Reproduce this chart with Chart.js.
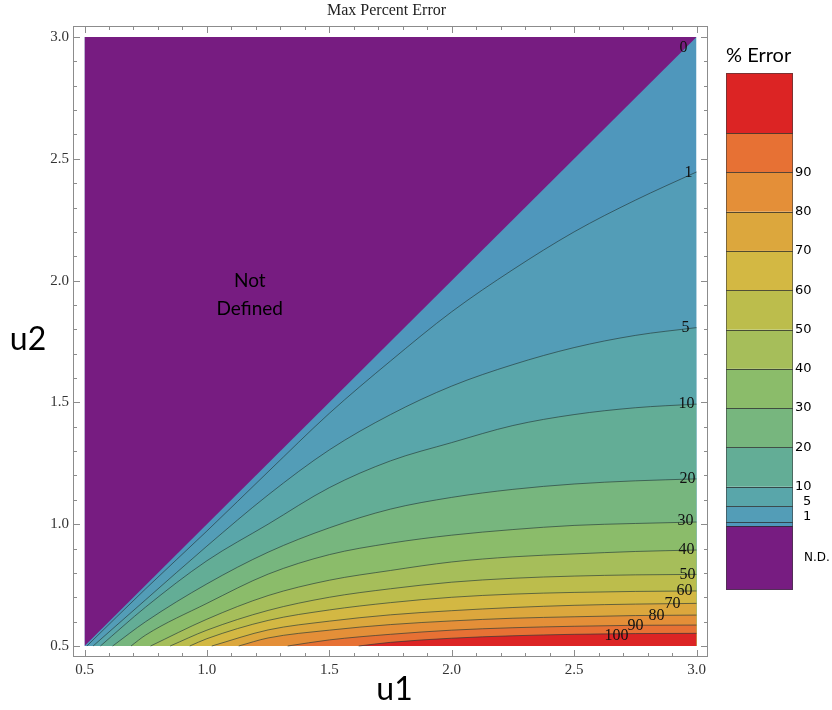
<!DOCTYPE html>
<html>
<head>
<meta charset="utf-8">
<script src="https://cdn.jsdelivr.net/npm/chart.js@4"></script>
<style>
  html, body { margin: 0; padding: 0; background: #fff; }
</style>
</head>
<body>
<canvas id="myChart" width="832" height="710"></canvas>
<script>
// contour levels (% error) and the points of each contour line, [u1, u2]
const levels = [1, 5, 10, 20, 30, 40, 50, 60, 70, 80, 90, 100];

const line1 = [[0.51, 0.5], [0.75, 0.735], [1.0, 0.972], [1.25, 1.215], [1.5, 1.455], [1.75, 1.67], [2.0, 1.872], [2.25, 2.045], [2.5, 2.2], [2.75, 2.33], [3.0, 2.446]];
const line5 = [[0.535, 0.5], [0.75, 0.69], [1.0, 0.91], [1.25, 1.12], [1.5, 1.305], [1.75, 1.45], [2.0, 1.567], [2.25, 1.655], [2.5, 1.725], [2.75, 1.775], [3.0, 1.807]];
const line10 = [[0.565, 0.5], [0.75, 0.66], [1.0, 0.85], [1.25, 1.0], [1.5, 1.15], [1.75, 1.26], [2.0, 1.335], [2.25, 1.405], [2.5, 1.45], [2.75, 1.478], [3.0, 1.493]];
const line20 = [[0.615, 0.5], [0.75, 0.6], [1.0, 0.755], [1.25, 0.885], [1.5, 0.985], [1.75, 1.062], [2.0, 1.11], [2.25, 1.143], [2.5, 1.165], [2.75, 1.178], [3.0, 1.186]];
const line30 = [[0.69, 0.5], [0.75, 0.545], [1.0, 0.675], [1.25, 0.795], [1.5, 0.875], [1.75, 0.922], [2.0, 0.955], [2.25, 0.978], [2.5, 0.995], [2.75, 1.003], [3.0, 1.009]];
const line40 = [[0.77, 0.5], [1.0, 0.61], [1.25, 0.707], [1.5, 0.77], [1.75, 0.81], [2.0, 0.845], [2.25, 0.866], [2.5, 0.878], [2.75, 0.888], [3.0, 0.894]];
const line50 = [[0.85, 0.5], [1.0, 0.565], [1.25, 0.646], [1.5, 0.7], [1.75, 0.735], [2.0, 0.762], [2.25, 0.778], [2.5, 0.787], [2.75, 0.792], [3.0, 0.794]];
const line60 = [[0.93, 0.5], [1.0, 0.53], [1.25, 0.605], [1.5, 0.648], [1.75, 0.678], [2.0, 0.7], [2.25, 0.713], [2.5, 0.72], [2.75, 0.724], [3.0, 0.726]];
const line70 = [[1.02, 0.5], [1.25, 0.566], [1.5, 0.602], [1.75, 0.628], [2.0, 0.645], [2.25, 0.658], [2.5, 0.667], [2.75, 0.672], [3.0, 0.675]];
const line80 = [[1.13, 0.5], [1.25, 0.533], [1.5, 0.565], [1.75, 0.588], [2.0, 0.603], [2.25, 0.614], [2.5, 0.62], [2.75, 0.625], [3.0, 0.627]];
const line90 = [[1.33, 0.5], [1.5, 0.525], [1.75, 0.548], [2.0, 0.565], [2.25, 0.575], [2.5, 0.581], [2.75, 0.585], [3.0, 0.586]];
const line100 = [[1.62, 0.5], [1.75, 0.515], [2.0, 0.532], [2.25, 0.542], [2.5, 0.548], [2.75, 0.551], [3.0, 0.552]];

const contourLines = [line1, line5, line10, line20, line30, line40, line50, line60, line70, line80, line90, line100];

// not defined region: u2 > u1
const notDefinedEdge = [[0.5, 0.5], [3.0, 3.0]];

const xTicks = [0.5, 1.0, 1.5, 2.0, 2.5, 3.0];
const yTicks = [0.5, 1.0, 1.5, 2.0, 2.5, 3.0];

// band colours: 0-1, 1-5, 5-10, 10-20, ... 90-100, >100
const bandColors = ['#4f97bc', '#539db7', '#59a6aa', '#63ad96', '#77b67e', '#8bbc6a', '#a6be5a', '#bcbd4c', '#d3b843', '#dca73d', '#e48f38', '#e77134', '#dc2424'];
const ndColor = '#771c81';
const lineColor = 'rgba(35,55,55,0.8)';

// where the level numbers sit on the plot
const labelSpots = [[2.947, 2.955], [2.967, 2.442], [2.955, 1.805], [2.959, 1.493], [2.963, 1.186], [2.955, 1.013], [2.959, 0.894], [2.963, 0.791], [2.951, 0.726], [2.902, 0.672], [2.837, 0.623], [2.751, 0.582], [2.673, 0.541]];
const labelTexts = ['0', '1', '5', '10', '20', '30', '40', '50', '60', '70', '80', '90', '100'];

const toXY = pts => pts.map(p => ({ x: p[0], y: p[1] }));

let datasets = [];
datasets.push({
  data: toXY(notDefinedEdge),
  fill: { value: 3 },
  backgroundColor: ndColor,
  borderWidth: 0,
  pointRadius: 0,
});
for (let i = contourLines.length - 1; i >= 0; i--) {
  datasets.push({
    data: toXY(contourLines[i]),
    fill: { value: 0.5 },
    backgroundColor: bandColors[i + 1],
    borderColor: lineColor,
    borderWidth: 0.8,
    pointRadius: 0,
    cubicInterpolationMode: 'monotone',
  });
}
datasets.push({
  data: [{ x: 0.5, y: 3 }, { x: 3, y: 3 }],
  fill: { value: 0.5 },
  backgroundColor: bandColors[0],
  borderWidth: 0,
  pointRadius: 0,
});

const framePlugin = {
  id: 'frame',
  afterDatasetsDraw(chart) {
    const { ctx, chartArea: a, scales: { x, y } } = chart;
    ctx.save();
    // contour labels
    ctx.fillStyle = '#111';
    ctx.font = '16px "Liberation Serif"';
    ctx.textAlign = 'center';
    ctx.textBaseline = 'middle';
    labelSpots.forEach((s, i) => {
      ctx.fillText(labelTexts[i], x.getPixelForValue(s[0]), y.getPixelForValue(s[1]));
    });
    ctx.font = '19px Lato';
    ctx.fillStyle = '#000';
    ctx.fillText('Not', x.getPixelForValue(1.175), y.getPixelForValue(2.0));
    ctx.fillText('Defined', x.getPixelForValue(1.175), y.getPixelForValue(1.883));

    // frame with inward ticks
    ctx.strokeStyle = '#8c8c8c';
    ctx.lineWidth = 1;
    ctx.strokeRect(a.left + 0.5, a.top + 0.5, a.right - a.left - 1, a.bottom - a.top - 1);
    ctx.beginPath();
    for (let i = 5; i <= 30; i++) {
      const v = i / 10;
      const len = i % 5 === 0 ? 7 : 4;
      const px = Math.round(x.getPixelForValue(v)) + 0.5;
      ctx.moveTo(px, a.bottom); ctx.lineTo(px, a.bottom - len);
      ctx.moveTo(px, a.top); ctx.lineTo(px, a.top + len);
      const py = Math.round(y.getPixelForValue(v)) + 0.5;
      ctx.moveTo(a.left, py); ctx.lineTo(a.left + len, py);
      ctx.moveTo(a.right, py); ctx.lineTo(a.right - len, py);
    }
    ctx.stroke();
    ctx.restore();
  },
  afterDraw(chart) {
    const { ctx, chartArea: a } = chart;
    ctx.save();
    // title and axis names
    ctx.fillStyle = '#222';
    ctx.textAlign = 'center';
    ctx.textBaseline = 'middle';
    ctx.font = '16px "Liberation Serif"';
    ctx.fillText('Max Percent Error', (a.left + a.right) / 2 - 4, 11);
    ctx.fillStyle = '#000';
    ctx.font = '32px Lato';
    ctx.fillText('u1', (a.left + a.right) / 2 + 4, 690);
    ctx.fillText('u2', 28, 340);

    // colour bar
    const bx = 726, bw = 67, zero = 526, per = 3.93, top = 73, ndBottom = 590;
    const edges = [0, 1, 5, 10, 20, 30, 40, 50, 60, 70, 80, 90, 100];
    ctx.fillStyle = ndColor;
    ctx.fillRect(bx, zero, bw, ndBottom - zero);
    for (let i = 0; i < edges.length; i++) {
      const y0 = zero - edges[i] * per;
      const y1 = i + 1 < edges.length ? zero - edges[i + 1] * per : top;
      ctx.fillStyle = bandColors[i];
      ctx.fillRect(bx, y1, bw, y0 - y1);
    }
    ctx.strokeStyle = 'rgba(40,40,40,0.75)';
    ctx.lineWidth = 1;
    ctx.beginPath();
    edges.forEach(e => {
      const yy = Math.round(zero - e * per) + 0.5;
      ctx.moveTo(bx, yy); ctx.lineTo(bx + bw, yy);
    });
    ctx.stroke();
    ctx.strokeStyle = 'rgba(60,60,60,0.6)';
    ctx.strokeRect(bx + 0.5, top + 0.5, bw - 1, ndBottom - top - 1);

    ctx.fillStyle = '#000';
    ctx.font = '13px "DejaVu Sans"';
    ctx.textAlign = 'left';
    edges.forEach(e => {
      if (e >= 10 && e <= 90) ctx.fillText(String(e), bx + bw + 2, zero - e * per);
    });
    ctx.fillText('5', bx + bw + 10, zero - 5 * per - 5);
    ctx.fillText('1', bx + bw + 10, zero - 1 * per - 5);
    ctx.font = '12px "DejaVu Sans"';
    ctx.fillText('N.D.', bx + bw + 11, 558);
    ctx.font = '20px Lato';
    ctx.fillText('% Error', bx, 56);
    ctx.restore();
  },
};

const ctx = document.getElementById('myChart').getContext('2d');
const myChart = new Chart(ctx, {
  type: 'scatter',
  data: { datasets: datasets },
  options: {
    responsive: false,
    animation: false,
    showLine: true,
    layout: { padding: { top: 26, right: 124, left: 0, bottom: 0 } },
    plugins: { legend: { display: false }, tooltip: { enabled: false } },
    scales: {
      x: {
        type: 'linear',
        min: 0.5 - 11.5 / 244.8,
        max: 3.0 + 11.5 / 244.8,
        grid: { display: false, drawTicks: false },
        border: { display: false },
        ticks: {
          color: '#333',
          padding: 4,
          maxRotation: 0,
          autoSkip: false,
          font: { family: 'Liberation Serif', size: 15 },
          callback: v => Number(v).toFixed(1),
        },
        afterBuildTicks: s => { s.ticks = xTicks.map(v => ({ value: v })); },
        afterFit: s => { s.height = 53; },
      },
      y: {
        type: 'linear',
        min: 0.5 - 11 / 243.6,
        max: 3.0 + 11 / 243.6,
        grid: { display: false, drawTicks: false },
        border: { display: false },
        ticks: {
          color: '#333',
          padding: 4,
          autoSkip: false,
          font: { family: 'Liberation Serif', size: 15 },
          callback: v => Number(v).toFixed(1),
        },
        afterBuildTicks: s => { s.ticks = yTicks.map(v => ({ value: v })); },
        afterFit: s => { s.width = 73; },
      },
    },
  },
  plugins: [framePlugin],
});
</script>
</body>
</html>
